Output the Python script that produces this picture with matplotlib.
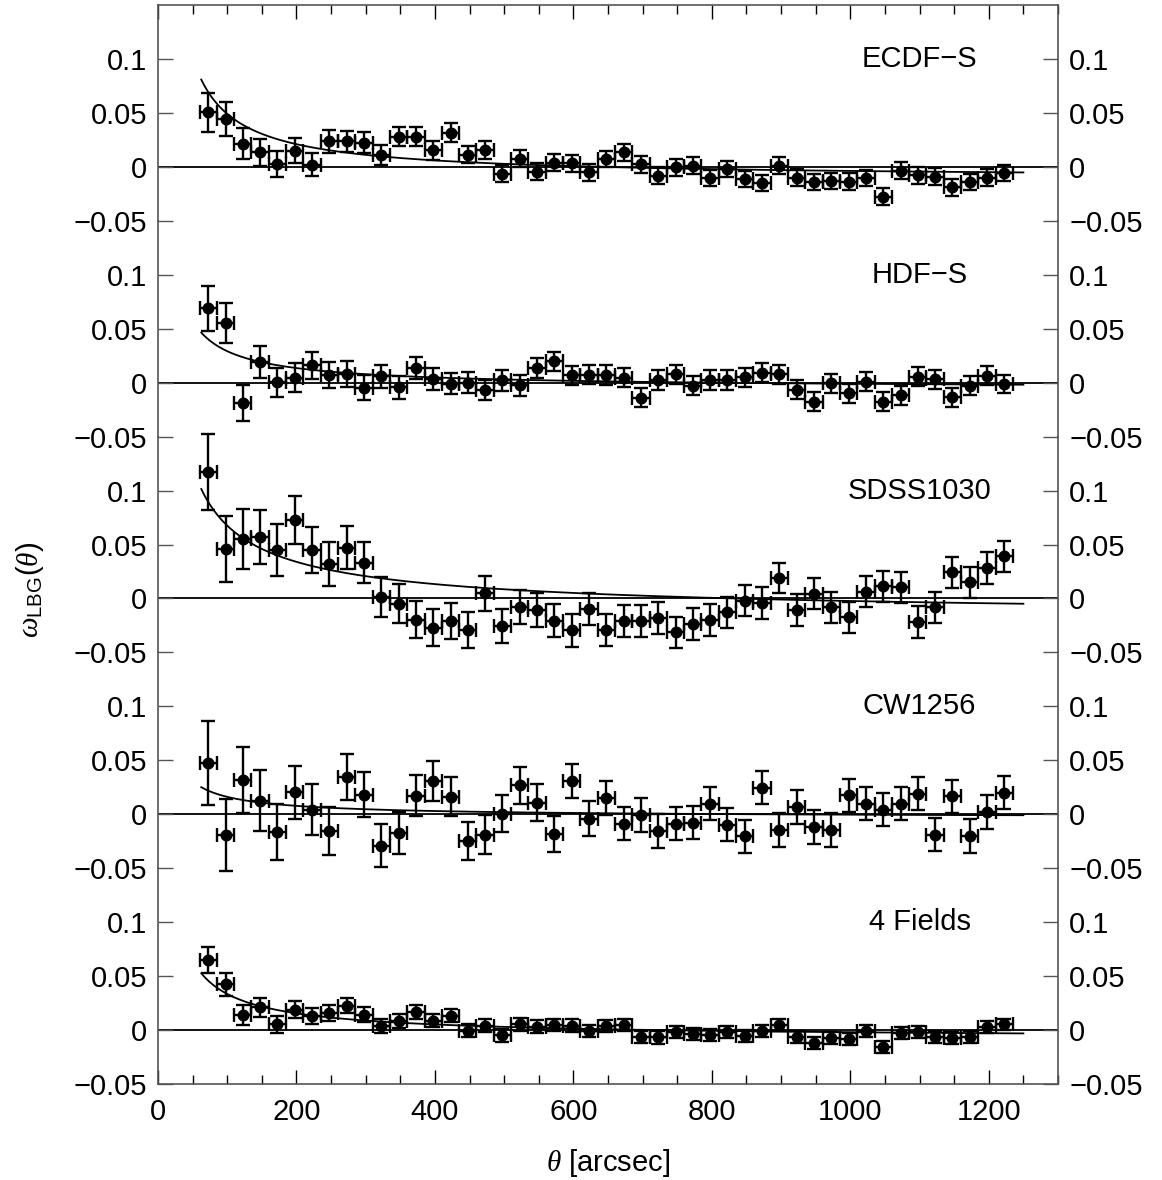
import numpy as np
import matplotlib
matplotlib.use('Agg')
import matplotlib.pyplot as plt
from matplotlib.ticker import MultipleLocator, FixedLocator, FixedFormatter

plt.rcParams['font.family'] = ['Liberation Sans', 'DejaVu Sans']
plt.rcParams['mathtext.fontset'] = 'custom'
plt.rcParams['mathtext.rm'] = 'Liberation Sans'
plt.rcParams['mathtext.it'] = 'Liberation Serif:italic'
plt.rcParams['mathtext.bf'] = 'Liberation Sans:bold'

# ---------------- data ----------------
theta = [72.5, 97.5, 122.5, 147.5, 172.5, 197.5, 222.5, 247.5, 272.5, 297.5,
         322.5, 347.5, 372.5, 397.5, 422.5, 447.5, 472.5, 497.5, 522.5, 547.5,
         572.5, 597.5, 622.5, 647.5, 672.5, 697.5, 722.5, 747.5, 772.5, 797.5,
         822.5, 847.5, 872.5, 897.5, 922.5, 947.5, 972.5, 997.5, 1022.5, 1047.5,
         1072.5, 1097.5, 1122.5, 1147.5, 1172.5, 1197.5, 1222.5]
theta_halfbin = 12.5

field_names = ['ECDF\u2212S', 'HDF\u2212S', 'SDSS1030', 'CW1256', '4 Fields']

ecdfs_w = [0.0506, 0.0444, 0.0216, 0.0133, 0.0025, 0.0151, 0.0019, 0.0235, 0.0235, 0.0225,
           0.0108, 0.028, 0.028, 0.0154, 0.0318, 0.0114, 0.0157, -0.0062, 0.0074, -0.0046,
           0.004, 0.0034, -0.005, 0.0074, 0.0136, 0.0022, -0.0083, -0.0006, 0.001, -0.0105,
           -0.002, -0.0114, -0.0151, 0.0012, -0.0099, -0.0139, -0.013, -0.0136, -0.0105, -0.0275,
           -0.0034, -0.008, -0.009, -0.0191, -0.0139, -0.0099, -0.0056]
ecdfs_err = [0.018, 0.0157, 0.0142, 0.0127, 0.0123, 0.0116, 0.0108, 0.0105, 0.010, 0.010,
             0.009, 0.009, 0.009, 0.0086, 0.0086, 0.0082, 0.0083, 0.008, 0.008, 0.0078,
             0.0078, 0.0078, 0.0077, 0.0077, 0.0078, 0.0077, 0.0077, 0.0077, 0.0077, 0.0077,
             0.0077, 0.0077, 0.0076, 0.0076, 0.0076, 0.0076, 0.0076, 0.0076, 0.0076, 0.0076,
             0.0076, 0.0075, 0.0075, 0.0075, 0.0075, 0.0075, 0.0075]

hdfs_w = [0.0688, 0.055, -0.0191, 0.0194, 0.0003, 0.0046, 0.016, 0.0071, 0.008, -0.0046,
          0.0059, -0.0043, 0.0139, 0.0034, -0.0009, 0.0, -0.0068, 0.0022, -0.0025, 0.0136,
          0.0198, 0.0068, 0.0074, 0.0071, 0.0046, -0.0139, 0.0025, 0.0077, -0.0028, 0.0025,
          0.0025, 0.0049, 0.0093, 0.0077, -0.0068, -0.0176, -0.0006, -0.0099, 0.0009, -0.0176,
          -0.0117, 0.0056, 0.0031, -0.0136, -0.0028, 0.0065, -0.0012]
hdfs_err = [0.0207, 0.0185, 0.0167, 0.0148, 0.0133, 0.0134, 0.0123, 0.012, 0.0117, 0.0114,
            0.0108, 0.0108, 0.0102, 0.0102, 0.010, 0.0097, 0.0095, 0.0095, 0.0095, 0.009,
            0.009, 0.009, 0.009, 0.009, 0.009, 0.009, 0.009, 0.0089, 0.0089, 0.0089,
            0.0089, 0.0088, 0.0088, 0.0088, 0.0088, 0.0088, 0.0087, 0.0087, 0.0087, 0.0087,
            0.0087, 0.0086, 0.0086, 0.0086, 0.0086, 0.0086, 0.0085]

sdss_w = [0.117, 0.0457, 0.0552, 0.0568, 0.0448, 0.0728, 0.045, 0.0318, 0.0469, 0.0333,
          0.0012, -0.0049, -0.0198, -0.0272, -0.021, -0.0296, 0.0049, -0.0253, -0.008, -0.0105,
          -0.0207, -0.0296, -0.0099, -0.029, -0.0207, -0.0207, -0.0182, -0.0315, -0.0235, -0.02,
          -0.0127, -0.0019, -0.0043, 0.0191, -0.0108, 0.0043, -0.0083, -0.0176, 0.0062, 0.0111,
          0.0102, -0.0219, -0.0083, 0.0241, 0.0151, 0.0281, 0.0389]
sdss_err = [0.0352, 0.0306, 0.0276, 0.0253, 0.0238, 0.0225, 0.0211, 0.0205, 0.020, 0.0188,
            0.0188, 0.018, 0.017, 0.017, 0.017, 0.0167, 0.0162, 0.0157, 0.0157, 0.0156,
            0.0154, 0.015, 0.015, 0.015, 0.0148, 0.0148, 0.0147, 0.0147, 0.0146, 0.0146,
            0.0145, 0.0145, 0.0145, 0.0142, 0.0145, 0.0145, 0.0145, 0.0145, 0.0145, 0.0145,
            0.0145, 0.0145, 0.0145, 0.0145, 0.0145, 0.0145, 0.0145]

cw_w = [0.0475, -0.0194, 0.0315, 0.0127, -0.0167, 0.0204, 0.0043, -0.0157, 0.0346, 0.0182,
        -0.029, -0.0173, 0.0173, 0.0309, 0.0164, -0.0247, -0.0188, 0.0006, 0.0269, 0.0108,
        -0.0182, 0.0309, -0.004, 0.0151, -0.0086, -0.0006, -0.0157, -0.0086, -0.0077, 0.0099,
        -0.0096, -0.0204, 0.0247, -0.0148, 0.0068, -0.0117, -0.0148, 0.0176, 0.0099, 0.0043,
        0.0099, 0.0191, -0.0188, 0.0167, -0.0201, 0.0022, 0.0201]
cw_err = [0.039, 0.0336, 0.0306, 0.028, 0.0258, 0.0245, 0.0233, 0.0225, 0.0215, 0.0207,
          0.0202, 0.0193, 0.0191, 0.0188, 0.0182, 0.0177, 0.0177, 0.0173, 0.0171, 0.017,
          0.0167, 0.016, 0.016, 0.0156, 0.0155, 0.0155, 0.0155, 0.0155, 0.0155, 0.0155,
          0.0155, 0.0155, 0.0155, 0.0155, 0.0155, 0.0155, 0.0155, 0.0155, 0.0155, 0.0155,
          0.0155, 0.0155, 0.0155, 0.0155, 0.0155, 0.0155, 0.0155]

all4_w = [0.0648, 0.0423, 0.0139, 0.021, 0.0052, 0.0188, 0.0127, 0.0157, 0.0225, 0.0142,
          0.004, 0.0086, 0.017, 0.0086, 0.0133, -0.0006, 0.004, -0.0049, 0.0052, 0.0031,
          0.0049, 0.004, -0.0012, 0.004, 0.0049, -0.0062, -0.0068, -0.0019, -0.0037, -0.0049,
          -0.0019, -0.0052, -0.0012, 0.0049, -0.0068, -0.0117, -0.0074, -0.0086, -0.0012, -0.0154,
          -0.0025, -0.0015, -0.0062, -0.0077, -0.0068, 0.0031, 0.0052]
all4_err = [0.0123, 0.0105, 0.0093, 0.0086, 0.008, 0.008, 0.0075, 0.0072, 0.007, 0.0068,
            0.0065, 0.0065, 0.0063, 0.006, 0.006, 0.006, 0.006, 0.006, 0.0058, 0.0058,
            0.0058, 0.0058, 0.0057, 0.0057, 0.0057, 0.0057, 0.0057, 0.0056, 0.0056, 0.0056,
            0.0056, 0.0056, 0.0056, 0.0056, 0.0056, 0.0055, 0.0055, 0.0055, 0.0055, 0.0055,
            0.0055, 0.0055, 0.0055, 0.0055, 0.0055, 0.0055, 0.0055]

# power-law fit curves  w = A * theta^-beta - IC  (parameters)
fit_A = [3.815, 1.762, 2.192, 0.781, 1.677]
fit_beta = [0.9, 0.85, 0.7, 0.8, 0.8]
fit_IC = [0.0114, 0.006, 0.0198, 0.0035, 0.0087]
fit_range = [62.5, 1250.0]

values = [ecdfs_w, hdfs_w, sdss_w, cw_w, all4_w]
errors = [ecdfs_err, hdfs_err, sdss_err, cw_err, all4_err]

yticks = [-0.05, 0.0, 0.05, 0.1]
ytick_labels = ['\u22120.05', '0', '0.05', '0.1']
xticks = [0, 200, 400, 600, 800, 1000, 1200]

# ---------------- figure ----------------
W, H = 1162, 1180
fig = plt.figure(figsize=(W / 100, H / 100), dpi=100)
left_px, right_px, top_px, bottom_px = 158, 1058, 5, 1084
ph = (bottom_px - top_px) / 5.0

frame_col = '#555555'
axes = []
for k in range(5):
    y0 = top_px + k * ph
    ax = fig.add_axes([left_px / W, 1 - (y0 + ph) / H, (right_px - left_px) / W, ph / H],
                      sharex=axes[0] if axes else None)
    ax.patch.set_alpha(0)
    axes.append(ax)

th = np.asarray(theta)
tcurve = np.linspace(fit_range[0], fit_range[1], 400)

for k, ax in enumerate(axes):
    ax.set_xlim(0, 1300)
    ax.set_ylim(-0.05, 0.15)
    ax.axhline(0, color='black', lw=1.3, zorder=1)
    ax.plot(tcurve, fit_A[k] * tcurve ** (-fit_beta[k]) - fit_IC[k], color='black', lw=1.3, zorder=2)
    ax.errorbar(th, values[k], yerr=errors[k], xerr=theta_halfbin, fmt='o', color='black',
                ms=7.6, elinewidth=1.7, capsize=4.8, capthick=1.7, clip_on=False, zorder=3)
    ax.text(1100, 0.0925, field_names[k], ha='center', va='baseline', fontsize=21)

    for s in ['left', 'right', 'top', 'bottom']:
        ax.spines[s].set_color(frame_col)
        ax.spines[s].set_linewidth(1.2)
    if k != 0:
        ax.spines['top'].set_visible(False)
    if k != 4:
        ax.spines['bottom'].set_visible(False)

    ax.yaxis.set_major_locator(FixedLocator(yticks))
    ax.yaxis.set_major_formatter(FixedFormatter(ytick_labels))
    ax.tick_params(axis='y', which='major', direction='in', left=True, right=True,
                   labelleft=True, labelright=True, length=11, width=1.0,
                   color=frame_col, labelsize=21, pad=8)

    ax.xaxis.set_major_locator(FixedLocator(xticks))
    ax.xaxis.set_minor_locator(MultipleLocator(50))
    ax.tick_params(axis='x', which='major', direction='in', length=10, width=1.0,
                   color='black', labelsize=21, pad=10)
    ax.tick_params(axis='x', which='minor', direction='in', length=6.5, width=1.0, color='black')
    ax.tick_params(axis='x', which='both', top=(k == 0), bottom=(k == 4),
                   labeltop=False, labelbottom=(k == 4))

fig.text((left_px + right_px) / 2 / W, 1 - 1163 / H, r'$\theta$ [arcsec]', ha='center',
         va='center', fontsize=21)
fig.text(30 / W, 1 - 590 / H, r'$\omega_{\mathrm{LBG}}(\theta)$', ha='center', va='center',
         rotation=90, fontsize=21)

fig.savefig('out.png', dpi=100)
